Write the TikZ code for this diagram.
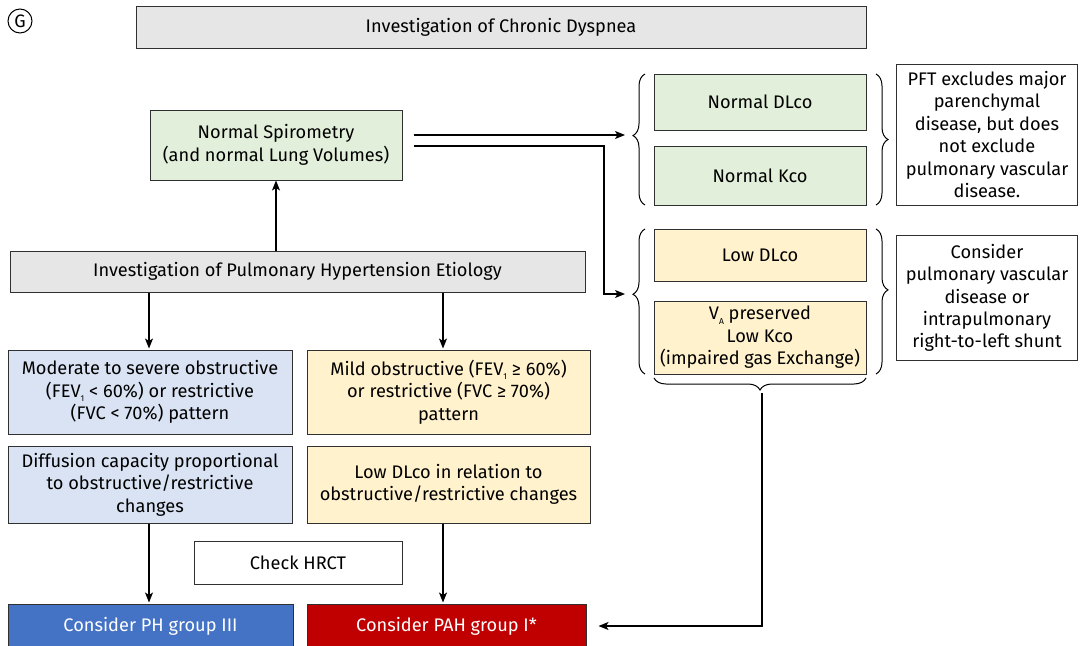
\documentclass[tikz,border=0pt]{standalone}
\usepackage{fontspec}
\setmainfont{Fira Sans}
\usetikzlibrary{arrows.meta,decorations.pathreplacing,calc}
\definecolor{cgray}{HTML}{E7E6E6}
\definecolor{cgreen}{HTML}{E2EFDA}
\definecolor{cblue}{HTML}{DAE3F3}
\definecolor{cyel}{HTML}{FFF2CC}
\definecolor{cdblue}{HTML}{4472C4}
\definecolor{cred}{HTML}{C00000}
\definecolor{cline}{HTML}{303030}
\newcommand{\sbs}[1]{\raisebox{-0.45ex}{\fontsize{8.5}{8.5}\selectfont #1}}
\begin{document}
\begin{tikzpicture}[x=1pt,y=-1pt,
  box/.style={draw=cline,line width=1pt,align=center,inner sep=2pt,
    font=\fontsize{18.2}{22.4}\selectfont,text=black},
  arr/.style={draw=black,line width=1.3pt,-{Stealth[length=10pt,width=8pt,inset=2.5pt]}},
  lbrace/.style={draw=black,line width=1pt,decorate,decoration={brace,amplitude=12pt,#1}},
  lbrace/.default={aspect=0.5}
]
\useasboundingbox (0,0) rectangle (1083,645);
\clip (0,0) rectangle (1083,645);

% G marker
\node[draw=black,line width=1pt,circle,minimum size=24pt,inner sep=0pt,font=\fontsize{18}{18}\selectfont] (g) at (20,21) {G};

% title
\node[box,fill=cgray,minimum width=730pt,minimum height=42pt] (title) at (501,27) {Investigation of Chronic Dyspnea};

% left column
\node[box,fill=cgreen,minimum width=252pt,minimum height=70pt] (spiro) at (276,145) {Normal Spirometry\\(and normal Lung Volumes)};
\node[box,fill=cgray,minimum width=575pt,minimum height=41pt] (ph) at (297.5,271.5) {Investigation of Pulmonary Hypertension Etiology};
\node[box,fill=cblue,minimum width=284pt,minimum height=84pt] (blue1) at (150,392) {Moderate to severe obstructive\\(FEV\sbs{1} < 60\%) or restrictive\\(FVC < 70\%) pattern};
\node[box,fill=cyel,minimum width=283pt,minimum height=84pt] (yel1) at (448.5,392) {Mild obstructive (FEV\sbs{1} ≥ 60\%)\\or restrictive (FVC ≥ 70\%)\\pattern};
\node[box,fill=cblue,minimum width=284pt,minimum height=77pt] (blue2) at (150,484.5) {Diffusion capacity proportional\\to obstructive/restrictive\\changes};
\node[box,fill=cyel,minimum width=283pt,minimum height=77pt] (yel2) at (448.5,484.5) {Low DLco in relation to\\obstructive/restrictive changes};
\node[box,fill=white,minimum width=208pt,minimum height=43pt] (hrct) at (298,562.5) {Check HRCT};
\node[box,fill=cdblue,text=white,minimum width=285pt,minimum height=44pt] (g3) at (150.5,626) {Consider PH group III};
\node[box,fill=cred,text=white,minimum width=279pt,minimum height=44pt] (pah) at (446.5,626) {Consider PAH group I*};

% right column
\node[box,fill=cgreen,minimum width=212pt,minimum height=56pt] (ndl) at (760,102) {Normal DLco};
\node[box,fill=cgreen,minimum width=212pt,minimum height=59pt] (nkco) at (760,175.5) {Normal Kco};
\node[box,fill=cyel,minimum width=212pt,minimum height=52pt] (ldl) at (760,255) {Low DLco};
\node[box,fill=cyel,minimum width=212pt,minimum height=73pt] (va) at (760,337.5) {V\sbs{A} preserved\\Low Kco\\(impaired gas Exchange)};
\node[box,fill=white,minimum width=181pt,minimum height=141pt] (pft) at (987,134.5) {PFT excludes major\\parenchymal\\disease, but does\\not exclude\\pulmonary vascular\\disease.};
\node[box,fill=white,minimum width=181pt,minimum height=125pt] (cons) at (987,298) {Consider\\pulmonary vascular\\disease or\\intrapulmonary\\right-to-left shunt};

% braces
\draw[lbrace={aspect=0.53}] (645,205) -- (645,74);
\draw[lbrace={aspect=0.55}] (645,374) -- (645,229);
\draw[lbrace={aspect=0.5}] (876,74) -- (876,205);
\draw[lbrace={aspect=0.42}] (876,229) -- (876,374);
\draw[lbrace={aspect=0.5}] (866,378) -- (654,378);

\coordinate (b1) at (625,135);
\coordinate (b2) at (625,294);
\coordinate (bb) at (762,393);
\coordinate (xl) at (149,0);
\coordinate (xr) at (443,0);

% connectors
\draw[arr] (ph.north -| spiro.south) -- (spiro.south);
\draw[arr] (ph.south -| xl) -- ([yshift=1pt]blue1.north -| xl);
\draw[arr] (ph.south -| xr) -- ([yshift=1pt]yel1.north -| xr);
\draw[arr] (blue2.south -| xl) -- ([yshift=1pt]g3.north -| xl);
\draw[arr] (yel2.south -| xr) -- ([yshift=1pt]pah.north -| xr);
\draw[arr] ($(spiro.east)+(11,-10)$) -- (b1);
\draw[arr] ($(spiro.east)+(11,1)$) -| ($(b2)+(-21,0)$) -- (b2);
\draw[arr] (bb) |- ($(pah.east)+(12,0)$);
\end{tikzpicture}
\end{document}
